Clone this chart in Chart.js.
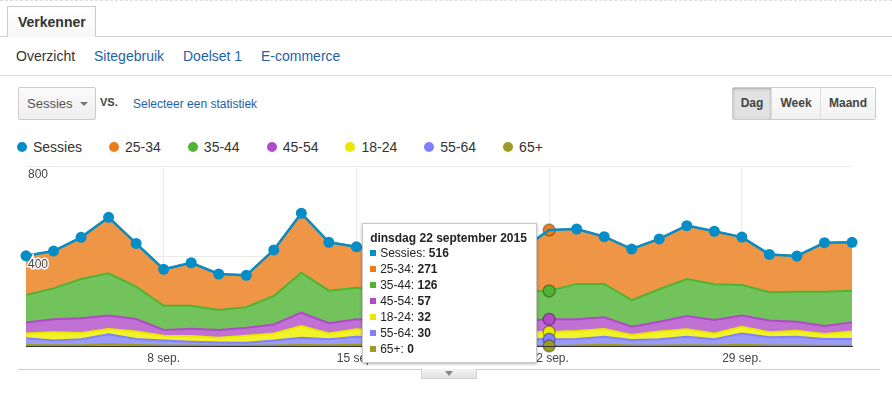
<!DOCTYPE html>
<html>
<head>
<meta charset="utf-8">
<script src="https://cdn.jsdelivr.net/npm/chart.js@4/dist/chart.umd.min.js"></script>
<style>
body { margin:0; width:892px; height:398px; overflow:hidden; background:#fff; position:relative;
       font-family: Arial, "Liberation Sans", sans-serif; color:#333; }
.abs { position:absolute; white-space:nowrap; }
.topdash { left:0; top:0; width:892px; border-top:1px dashed #ddd; }
.tabline { left:0; top:36px; width:892px; height:1px; background:#ccc; }
.tab { left:7px; top:6px; width:89px; height:31px; box-sizing:border-box; border:1px solid #ccc; border-bottom:none;
       background:linear-gradient(#fff,#f7f7f7); font-weight:bold; font-size:14px; line-height:30px; padding-left:10px; color:#333; }
.sub { top:48px; font-size:14px; line-height:16px; }
.sub.link { color:#1f62a7; }
.subline { left:0; top:75px; width:892px; height:1px; background:#ddd; }
.dd { left:18px; top:87px; width:78px; height:33px; box-sizing:border-box; border:1px solid #ccc; border-radius:2px;
      background:linear-gradient(#fbfbfb,#eeeeee); font-size:13px; color:#555; line-height:31px; padding-left:8px; }
.dd:after { content:""; position:absolute; left:61px; top:14px; border-left:4px solid transparent; border-right:4px solid transparent; border-top:4px solid #777; }
.vs { left:100px; top:96px; font-size:11px; font-weight:bold; color:#444; }
.sel { left:133px; top:97px; font-size:12px; color:#1f62a7; }
.btns { left:732px; top:87px; height:33px; display:flex; border:1px solid #ccc; border-radius:2px; box-sizing:border-box; }
.btns div { font-size:12px; font-weight:bold; color:#444; line-height:31px; text-align:center; background:linear-gradient(#fcfcfc,#f1f1f1); border-left:1px solid #ddd; }
.btns div:first-child { border-left:none; background:#e2e2e2; box-shadow: inset 0 1px 3px rgba(0,0,0,0.25); }
.legend { left:17px; top:139px; display:flex; align-items:center; font-size:14px; color:#333; line-height:16px; }
.legend .it { display:flex; align-items:center; margin-right:27px; }
.legend .dot { width:10px; height:10px; border-radius:50%; margin-right:6px; }
#wrap { position:absolute; left:0; top:155px; width:892px; height:215px; }
.bottomline { left:18px; top:369px; width:862px; height:1px; background:#ccc; }
.handle { left:421px; top:369px; width:54px; height:9px; background:linear-gradient(#f3f3f3,#e2e2e2); border:1px solid #d4d4d4; border-top:none; }
.handle:after { content:""; position:absolute; left:23px; top:2px; border-left:4px solid transparent; border-right:4px solid transparent; border-top:5px solid #888; }
#tip { position:absolute; display:none; background:#fff; border:1px solid #c9c9c9; box-shadow:0 1px 3px rgba(0,0,0,0.3);
       padding:7px 9px 5px 7px; font-size:12px; color:#222; white-space:nowrap; }
#tip .t { font-weight:bold; line-height:14px; }
#tip .r { line-height:16px; display:flex; align-items:center; }
#tip .sq { width:6px; height:6px; margin-right:4px; }
</style>
</head>
<body>
<div class="abs topdash"></div>
<div class="abs tabline"></div>
<div class="abs tab">Verkenner</div>
<div class="abs sub" style="left:16px">Overzicht</div>
<div class="abs sub link" style="left:94px">Sitegebruik</div>
<div class="abs sub link" style="left:183px">Doelset 1</div>
<div class="abs sub link" style="left:261px">E-commerce</div>
<div class="abs subline"></div>
<div class="abs dd">Sessies</div>
<div class="abs vs">VS.</div>
<div class="abs sel">Selecteer een statistiek</div>
<div class="abs btns"><div style="width:38px">Dag</div><div style="width:48px">Week</div><div style="width:54px">Maand</div></div>
<div class="abs legend" id="legend"></div>
<div id="wrap"><canvas id="chart"></canvas></div>
<div class="abs bottomline"></div>
<div class="abs handle"></div>
<div id="tip"></div>
<script>
// dagen 3 sep. t/m 3 okt. 2015
const days = ['3 sep.', '4 sep.', '5 sep.', '6 sep.', '7 sep.', '8 sep.', '9 sep.', '10 sep.', '11 sep.', '12 sep.',
  '13 sep.', '14 sep.', '15 sep.', '16 sep.', '17 sep.', '18 sep.', '19 sep.', '20 sep.', '21 sep.', '22 sep.',
  '23 sep.', '24 sep.', '25 sep.', '26 sep.', '27 sep.', '28 sep.', '29 sep.', '30 sep.', '1 okt.', '2 okt.', '3 okt.'];
const xTickLabels = ['8 sep.', '15 sep.', '22 sep.', '29 sep.'];
const yTickValues = [400, 800];

const sessies = [401, 422, 483, 572, 456, 341, 370, 320, 314, 427, 590, 461, 441, 430, 395, 410, 445, 470, 430, 516,
  520, 486, 431, 476, 535, 510, 484, 407, 400, 459, 461];
const age2534 = [174, 166, 185, 249, 192, 162, 191, 160, 142, 205, 264, 215, 182, 180, 170, 175, 195, 208, 190, 271,
  244, 210, 227, 224, 237, 236, 213, 168, 159, 218, 215];
const age3544 = [123, 137, 175, 188, 144, 108, 102, 89, 91, 126, 178, 145, 140, 135, 125, 130, 138, 144, 128, 126,
  157, 148, 118, 144, 165, 158, 136, 126, 133, 152, 141];
const age4554 = [48, 58, 65, 59, 56, 25, 33, 34, 35, 40, 59, 45, 45, 47, 42, 43, 48, 52, 50, 57,
  52, 52, 37, 44, 59, 60, 49, 52, 40, 36, 41];
const age1824 = [22, 37, 28, 24, 33, 22, 25, 21, 31, 32, 52, 26, 33, 30, 26, 28, 32, 33, 31, 32,
  36, 35, 22, 34, 33, 26, 30, 22, 27, 22, 33];
const age5564 = [29, 21, 27, 44, 27, 22, 17, 15, 14, 22, 33, 27, 36, 34, 29, 31, 30, 31, 30, 30,
  29, 36, 25, 28, 38, 28, 50, 37, 39, 30, 30];
const age65 = [5, 3, 3, 8, 4, 2, 2, 1, 1, 2, 4, 3, 5, 4, 3, 3, 2, 2, 1, 0,
  2, 5, 2, 2, 3, 2, 6, 2, 2, 1, 1];

const hoverDay = '22 sep.';

// kleuren
const COLORS = {
  'Sessies': { line: '#058dc7' },
  '25-34': { line: '#ed7e17', fill: '#ef9546' },
  '35-44': { line: '#50b432', fill: '#72c35b' },
  '45-54': { line: '#b04ac6', fill: '#c170d3' },
  '18-24': { line: '#e8e800', fill: '#f2f22a' },
  '55-64': { line: '#8080ff', fill: '#9b9bff' },
  '65+': { line: '#9d9b24', fill: '#aeac45' }
};
const legendOrder = ['Sessies', '25-34', '35-44', '45-54', '18-24', '55-64', '65+'];

// legenda
const legendEl = document.getElementById('legend');
legendOrder.forEach(name => {
  const it = document.createElement('div');
  it.className = 'it';
  it.innerHTML = '<span class="dot" style="background:' + COLORS[name].line + '"></span>' + name;
  legendEl.appendChild(it);
});

// stapel van onder naar boven
const stack = [
  ['65+', age65], ['55-64', age5564], ['18-24', age1824],
  ['45-54', age4554], ['35-44', age3544], ['25-34', age2534]
];

const datasets = stack.map(([name, values], i) => ({
  label: name,
  data: values,
  stack: 'ages',
  fill: i === 0 ? 'origin' : '-1',
  backgroundColor: COLORS[name].fill,
  borderColor: COLORS[name].line,
  borderWidth: 2,
  pointRadius: 0,
  pointHoverRadius: 6,
  pointHoverBorderWidth: 1.5,
  pointBackgroundColor: COLORS[name].line,
  pointHoverBackgroundColor: COLORS[name].line,
  pointHoverBorderColor: 'rgba(0,0,0,0.3)',
  tension: 0,
  clip: false
}));
datasets.push({
  label: 'Sessies',
  data: sessies,
  stack: 'total',
  order: -1,
  fill: false,
  borderColor: COLORS['Sessies'].line,
  backgroundColor: COLORS['Sessies'].line,
  borderWidth: 2.5,
  pointRadius: 5.5,
  pointBorderWidth: 0,
  pointHoverRadius: 0,
  tension: 0,
  clip: false
});

const dagNamen = ['zondag', 'maandag', 'dinsdag', 'woensdag', 'donderdag', 'vrijdag', 'zaterdag'];
const maandNamen = ['januari', 'februari', 'maart', 'april', 'mei', 'juni', 'juli', 'augustus', 'september', 'oktober', 'november', 'december'];

function fullDate(index) {
  const d = new Date(2015, 8, 3 + index);
  return dagNamen[d.getDay()] + ' ' + d.getDate() + ' ' + maandNamen[d.getMonth()] + ' ' + d.getFullYear();
}

// html tooltip
function externalTooltip(context) {
  const tt = context.tooltip;
  const el = document.getElementById('tip');
  if (tt.opacity === 0 || !tt.dataPoints || !tt.dataPoints.length) {
    el.style.display = 'none';
    return;
  }
  const index = tt.dataPoints[0].dataIndex;
  const byName = {};
  tt.dataPoints.forEach(p => { byName[p.dataset.label] = p.raw; });
  let html = '<div class="t">' + fullDate(index) + '</div>';
  legendOrder.forEach(name => {
    if (byName[name] === undefined) return;
    html += '<div class="r"><span class="sq" style="background:' + COLORS[name].line + '"></span>' +
      name + ':&nbsp;<b>' + byName[name] + '</b></div>';
  });
  el.innerHTML = html;
  el.style.display = 'block';
  const wrap = document.getElementById('wrap');
  el.style.left = (wrap.offsetLeft + tt.caretX - el.offsetWidth - 12) + 'px';
  el.style.top = (wrap.offsetTop + tt.caretY - el.offsetHeight / 2 - 5) + 'px';
}

const chart = new Chart(document.getElementById('chart'), {
  type: 'line',
  data: { labels: days, datasets: datasets },
  options: {
    responsive: true,
    maintainAspectRatio: false,
    animation: false,
    layout: { padding: { left: 26, right: 40, top: 11, bottom: 4 } },
    interaction: { mode: 'index', intersect: false },
    plugins: {
      legend: { display: false },
      tooltip: { enabled: false, mode: 'index', intersect: false, external: externalTooltip }
    },
    scales: {
      x: {
        offset: false,
        grid: {
          drawTicks: false,
          color: c => xTickLabels.includes(days[c.index]) ? '#ececec' : 'rgba(0,0,0,0)'
        },
        border: { color: '#333', width: 1, z: 1 },
        ticks: {
          autoSkip: false,
          maxRotation: 0,
          padding: 5,
          color: '#444',
          font: { family: 'Arial, "Liberation Sans"', size: 12 },
          callback: function (v) {
            const l = this.getLabelForValue(v);
            return xTickLabels.includes(l) ? l : '';
          }
        },
        afterFit: s => { s.height = 20; }
      },
      y: {
        stacked: true,
        min: 0,
        max: 800,
        grid: {
          drawTicks: false,
          color: c => c.tick && c.tick.value === 0 ? 'rgba(0,0,0,0)' : '#ebebeb'
        },
        border: { display: false },
        ticks: { stepSize: 400, display: false },
        afterFit: s => { s.width = 0; }
      },
      yLabels: {
        position: 'left',
        min: 0,
        max: 800,
        z: 1,
        grid: { display: false },
        border: { display: false },
        ticks: {
          z: 1,
          stepSize: 400,
          mirror: true,
          padding: 2,
          labelOffset: 9,
          color: '#444',
          font: { family: 'Arial, "Liberation Sans"', size: 12 },
          textStrokeColor: '#fff',
          textStrokeWidth: 3,
          callback: v => yTickValues.includes(v) ? String(v) : ''
        },
        afterFit: s => { s.width = 0; }
      }
    }
  }
});

// tooltip zoals bij hover op 22 sep.
const hoverIndex = days.indexOf(hoverDay);
const active = chart.data.datasets.map((d, i) => ({ datasetIndex: i, index: hoverIndex }));
chart.setActiveElements(active);
chart.tooltip.setActiveElements(active, { x: 0, y: 0 });
chart.update();
</script>
</body>
</html>
